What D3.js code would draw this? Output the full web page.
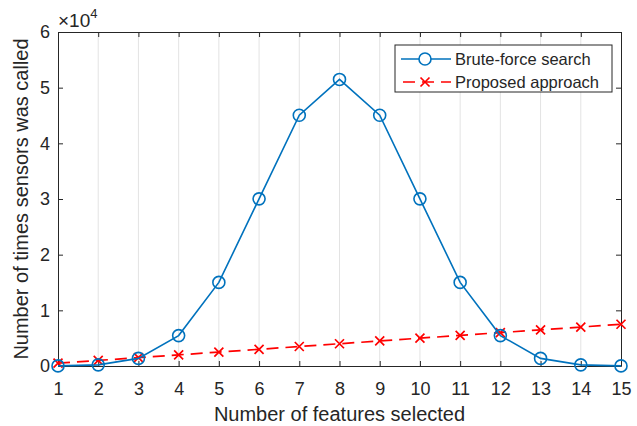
<!DOCTYPE html>
<html>
<head>
<meta charset="utf-8">
<script src="https://cdn.jsdelivr.net/npm/d3@7"></script>
<style>
  body { margin: 0; background: #fff; }
  svg text { font-family: "Liberation Sans", Arial, sans-serif; fill: #262626; }
</style>
</head>
<body>
<svg id="chart" width="637" height="426"></svg>
<script>
// data
const features = [1, 2, 3, 4, 5, 6, 7, 8, 9, 10, 11, 12, 13, 14, 15];
const bruteForce = [15, 210, 1365, 5460, 15015, 30030, 45045, 51480, 45045, 30030, 15015, 5460, 1365, 210, 15];
const proposed = [500, 1000, 1500, 2000, 2500, 3000, 3500, 4000, 4500, 5000, 5500, 6000, 6500, 7000, 7500];
const yTicks = [0, 10000, 20000, 30000, 40000, 50000, 60000];
const seriesNames = ['Brute-force search', 'Proposed approach'];

const svg = d3.select('#chart');
const margin = {top: 32, right: 16, bottom: 60, left: 58};
const W = 637, H = 426;
const x = d3.scaleLinear().domain([1, 15]).range([margin.left, W - margin.right]);
const y = d3.scaleLinear().domain([0, 60000]).range([H - margin.bottom, margin.top]);
const axisCol = '#262626';

// vertical grid
svg.append('g').selectAll('line')
  .data(features.slice(1, -1))
  .enter().append('line')
  .attr('x1', d => x(d)).attr('x2', d => x(d))
  .attr('y1', y(0)).attr('y2', y(60000))
  .attr('stroke', '#e3e3e3').attr('stroke-width', 1);

// axes
const xAxis = d3.axisBottom(x).tickValues(features).tickSize(-5).tickPadding(16).tickSizeOuter(0);
svg.append('g').attr('transform', `translate(0,${y(0)})`).call(xAxis);
const yAxis = d3.axisLeft(y).tickValues(yTicks).tickFormat(d => d / 10000).tickSize(-5).tickPadding(8).tickSizeOuter(0);
svg.append('g').attr('transform', `translate(${x(1)},0)`).call(yAxis);
// top and right ticks (box)
svg.append('g').attr('transform', `translate(0,${y(60000)})`)
  .call(d3.axisTop(x).tickValues(features).tickSize(-5).tickFormat('').tickSizeOuter(0));
svg.append('g').attr('transform', `translate(${x(15)},0)`)
  .call(d3.axisRight(y).tickValues(yTicks).tickSize(-5).tickFormat('').tickSizeOuter(0));
svg.selectAll('.domain, .tick line').attr('stroke', axisCol);
svg.selectAll('.tick text').attr('font-size', 18).attr('fill', axisCol)
  .style('font-family', '"Liberation Sans", Arial, sans-serif');

// exponent label
const exp = svg.append('text').attr('x', x(1)).attr('y', 27).attr('font-size', 19);
exp.append('tspan').text('\u00d710');
exp.append('tspan').attr('dy', -9).attr('font-size', 13).text('4');

// axis titles
svg.append('text').attr('x', (x(1) + x(15)) / 2).attr('y', 421)
  .attr('text-anchor', 'middle').attr('font-size', 20).text('Number of features selected');
svg.append('text').attr('transform', `translate(28,${(y(0) + y(60000)) / 2}) rotate(-90)`)
  .attr('text-anchor', 'middle').attr('font-size', 20).text('Number of times sensors was called');

// series
const line = d3.line().x((d, i) => x(features[i])).y(d => y(d));
const blue = '#0072BD', red = '#FF0000';

svg.append('path').datum(proposed).attr('d', line)
  .attr('fill', 'none').attr('stroke', red).attr('stroke-width', 1.7).attr('stroke-dasharray', '12,7');
const crossPath = 'M-4.5,-4.5L4.5,4.5M-4.5,4.5L4.5,-4.5';
svg.append('g').selectAll('path').data(proposed).enter().append('path')
  .attr('transform', (d, i) => `translate(${x(features[i])},${y(d)})`)
  .attr('d', crossPath).attr('stroke', red).attr('stroke-width', 1.7);

svg.append('path').datum(bruteForce).attr('d', line)
  .attr('fill', 'none').attr('stroke', blue).attr('stroke-width', 1.6);
svg.append('g').selectAll('circle').data(bruteForce).enter().append('circle')
  .attr('cx', (d, i) => x(features[i])).attr('cy', d => y(d)).attr('r', 6)
  .attr('fill', 'none').attr('stroke', blue).attr('stroke-width', 1.6);

// legend
const lg = svg.append('g').attr('transform', 'translate(395,45)');
lg.append('rect').attr('width', 217).attr('height', 47).attr('fill', '#fff').attr('stroke', axisCol).attr('stroke-width', 1);
lg.append('line').attr('x1', 6).attr('x2', 56).attr('y1', 14).attr('y2', 14).attr('stroke', blue).attr('stroke-width', 1.6);
lg.append('circle').attr('cx', 30).attr('cy', 14).attr('r', 6).attr('fill', '#fff').attr('stroke', blue).attr('stroke-width', 1.6);
lg.append('line').attr('x1', 6).attr('x2', 56).attr('y1', 37).attr('y2', 37).attr('stroke', red).attr('stroke-width', 1.7).attr('stroke-dasharray', '12,7').attr('stroke-dashoffset', -2);
lg.append('path').attr('transform', 'translate(30,37)').attr('d', crossPath).attr('stroke', red).attr('stroke-width', 1.7);
lg.selectAll('text.lab').data(seriesNames).enter().append('text').attr('class', 'lab')
  .attr('x', 60).attr('y', (d, i) => 20 + i * 23).attr('font-size', 16.5).attr('fill', '#000').text(d => d);
</script>
</body>
</html>
